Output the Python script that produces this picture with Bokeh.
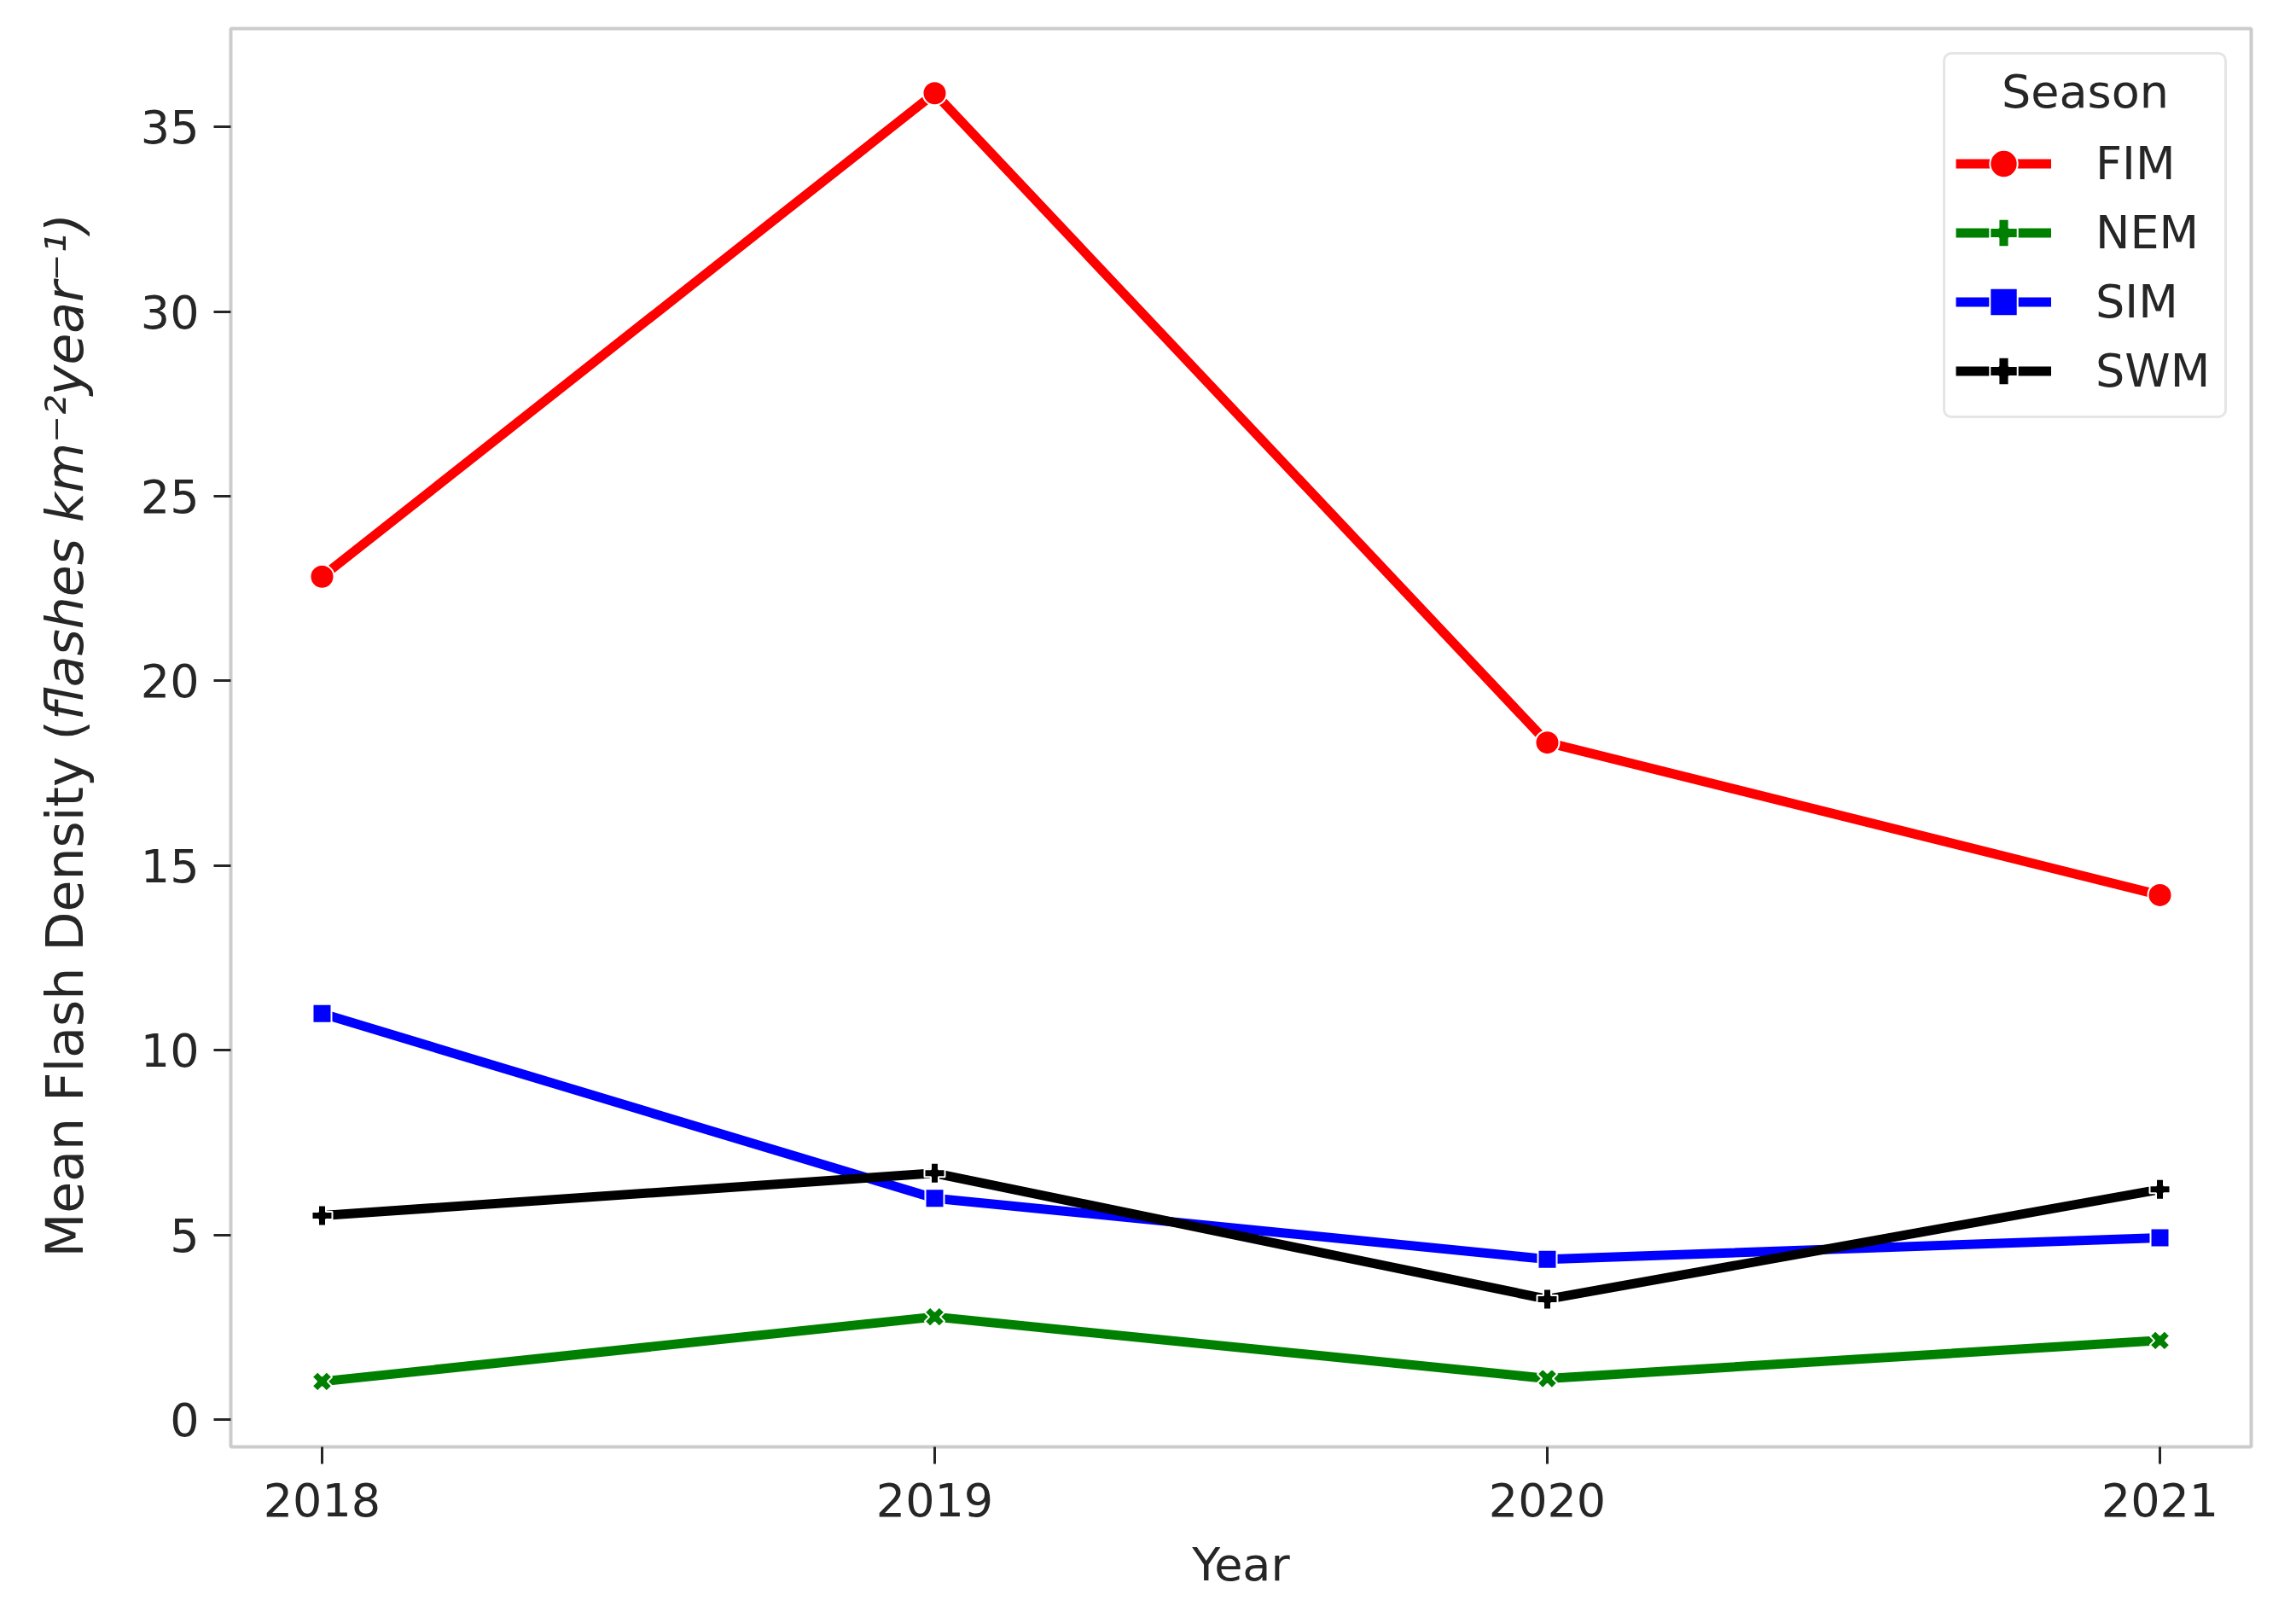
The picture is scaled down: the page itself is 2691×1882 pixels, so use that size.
import numpy as np
from bokeh.plotting import figure
from bokeh.layouts import row
from bokeh.models import Range1d, Legend, LegendItem, FixedTicker
from bokeh.core.properties import value
from bokeh.embed import file_html
from bokeh.resources import INLINE

# ---- data ----
years = [2018, 2019, 2020, 2021]
seasons = ["FIM", "NEM", "SIM", "SWM"]
fim = [22.82, 35.91, 18.33, 14.2]
nem = [1.03, 2.78, 1.11, 2.14]
sim = [10.99, 5.99, 4.34, 4.92]
swm = [5.52, 6.67, 3.26, 6.23]
y_ticks = [0, 5, 10, 15, 20, 25, 30, 35]
y_label_plain = "Mean Flash Density ("
y_label_units = "flashes km\u207b\u00b2year\u207b\u00b9)"
legend_title = "Season"

series = {"FIM": fim, "NEM": nem, "SIM": sim, "SWM": swm}
colors = {"FIM": "#ff0000", "NEM": "#008000", "SIM": "#0000ff", "SWM": "#000000"}
markers = {"FIM": ("circle", 28, 0.0), "NEM": ("plus", 24, np.pi / 4),
           "SIM": ("square", 22, 0.0), "SWM": ("plus", 24, 0.0)}

TXT = "#262626"
FONT = "DejaVu Sans"
FS = "54px"
H = 1874
LW = 150  # width of the strip holding the y-axis title

# ---- strip with the rotated y-axis title ----
lab = figure(width=LW, height=H, output_backend="svg", toolbar_location=None,
             x_range=Range1d(0, LW), y_range=Range1d(0, H),
             x_axis_type=None, y_axis_type=None,
             min_border=0, min_border_left=0, min_border_right=0,
             min_border_top=0, min_border_bottom=0)
lab.outline_line_color = None
lab.grid.visible = False
lab.background_fill_color = "white"
lab.border_fill_color = "white"
ANCHOR_X, ANCHOR_Y = 75, H - 914
lab.text(x=[ANCHOR_X], y=[ANCHOR_Y], text=[y_label_plain], angle=np.pi / 2,
         text_align="right", text_baseline="middle", text_font=value(FONT),
         text_font_size="60px", text_color=TXT)
lab.text(x=[ANCHOR_X], y=[ANCHOR_Y], text=[y_label_units], angle=np.pi / 2,
         text_align="left", text_baseline="middle", text_font=value(FONT),
         text_font_size="60px", text_font_style="italic", text_color=TXT)

# ---- main chart ----
p = figure(width=2675 - LW, height=H, output_backend="svg", toolbar_location=None,
           x_range=Range1d(2017.851, 2021.149), y_range=Range1d(-0.74, 37.66),
           min_border_left=270 - LW, min_border_right=37, min_border_top=33,
           min_border_bottom=H - 1695)

p.background_fill_color = "white"
p.border_fill_color = "white"
p.outline_line_color = "#cccccc"
p.outline_line_width = 4
p.xgrid.visible = False
p.ygrid.visible = False

for ax in (p.xaxis[0], p.yaxis[0]):
    ax.axis_line_color = None
    ax.minor_tick_line_color = None
    ax.major_tick_in = 0
    ax.major_tick_out = 20
    ax.major_tick_line_width = 3
    ax.major_tick_line_color = TXT
    ax.major_label_text_font = FONT
    ax.major_label_text_font_size = FS
    ax.major_label_text_color = TXT

p.xaxis.ticker = FixedTicker(ticks=years)
p.yaxis.ticker = FixedTicker(ticks=y_ticks)
p.xaxis.major_label_standoff = 22
p.yaxis.major_label_standoff = 17
p.xaxis.axis_label = "Year"
p.xaxis.axis_label_text_font = FONT
p.xaxis.axis_label_text_font_size = FS
p.xaxis.axis_label_text_font_style = "normal"
p.xaxis.axis_label_text_color = TXT
p.xaxis.axis_label_standoff = 22

items = []
for s in seasons:
    c = colors[s]
    mk, sz, ang = markers[s]
    lr = p.line(years, series[s], line_color=c, line_width=11, line_join="round")
    sr = p.scatter(years, series[s], marker=mk, size=sz, angle=ang,
                   fill_color=c, line_color="white", line_width=2)
    items.append(LegendItem(label=s, renderers=[lr, sr]))

legend = Legend(items=items, location="top_right", margin=28, padding=12,
                spacing=0, glyph_width=112, glyph_height=81, label_height=81,
                label_width=139, label_standoff=52,
                label_text_font=FONT, label_text_font_size=FS, label_text_color=TXT,
                title="\u2002\u2002" + legend_title, title_text_font=FONT,
                title_text_font_size=FS, title_text_font_style="normal",
                title_text_color=TXT, title_standoff=12,
                border_line_color="#cccccc", border_line_width=3,
                background_fill_color="white", background_fill_alpha=1.0)
if "border_radius" in Legend.properties():
    legend.border_radius = 10
p.add_layout(legend, "center")

layout = row(lab, p, spacing=0)
open("out.html", "w").write(file_html(layout, INLINE))
